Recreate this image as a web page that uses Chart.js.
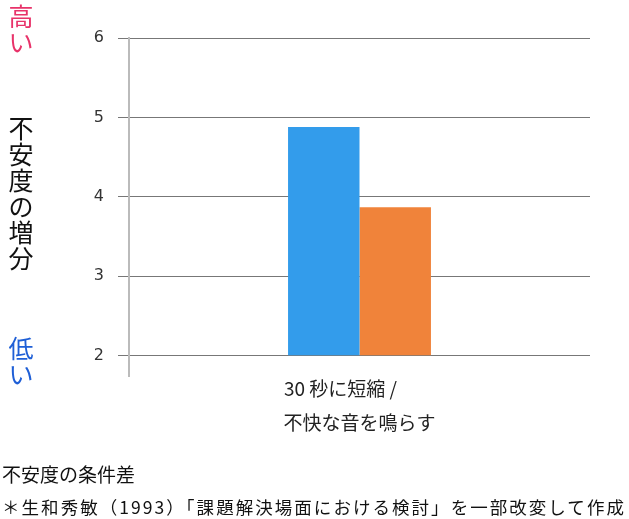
<!DOCTYPE html>
<html><head><meta charset="utf-8">
<script src="https://cdn.jsdelivr.net/npm/chart.js@4"></script>
<style>
html,body{margin:0;padding:0;background:#fff;}
#wrap{position:relative;width:629px;height:519px;font-family:"Noto Sans CJK JP","Noto Sans",sans-serif;}
canvas{position:absolute;left:0;top:0;}
.v{position:absolute;font-size:25px;line-height:26px;width:26px;text-align:center;}
.f{position:absolute;left:2px;color:#111;white-space:nowrap;line-height:1;}
</style></head>
<body><div id="wrap">
<canvas id="c" width="629" height="519"></canvas>
<div class="v" style="left:8px;top:2px;color:#e8336a;">高<br>い</div>
<div class="v" style="left:8px;top:114px;color:#111;">不<br>安<br>度<br>の<br>増<br>分</div>
<div class="v" style="left:8px;top:334px;color:#1f5fd6;">低<br>い</div>
<div class="f" id="f1" style="top:464px;font-size:19px;">不安度の条件差</div>
<div class="f" id="f2" style="top:498px;font-size:17.5px;">＊生和秀敏（1993）「課題解決場面における検討」を一部改変して作成</div>
</div>
<script>
const categories = [["30 秒に短縮 /\u3000\u3000", "不快な音を鳴らす"]];
const seriesA = [4.88];
const seriesB = [3.87];
const yTicks = [2, 3, 4, 5, 6];

(function fit(){
  const el = document.getElementById('f2');
  const n = el.textContent.length;
  const w = el.getBoundingClientRect().width;
  el.style.letterSpacing = ((624 - w) / n) + 'px';
})();

new Chart(document.getElementById('c'), {
  type: 'bar',
  data: {
    labels: categories,
    datasets: [
      {data: seriesA, backgroundColor: '#339ceb', base: 2, borderWidth: 0},
      {data: seriesB, backgroundColor: '#f0833a', base: 2, borderWidth: 0}
    ]
  },
  options: {
    responsive: false,
    animation: false,
    devicePixelRatio: 1,
    layout: {padding: {top: 38, right: 39, bottom: 0, left: 0}},
    plugins: {legend: {display: false}, tooltip: {enabled: false}},
    datasets: {bar: {barPercentage: 1, categoryPercentage: 0.31}},
    scales: {
      x: {
        grid: {display: false},
        border: {display: false},
        ticks: {color: '#222', font: {family: '"Noto Sans CJK JP"', size: 19, lineHeight: '34px'}, padding: -12, maxRotation: 0},
        afterFit: s => { s.height = 143; }
      },
      y: {
        min: 1.744, max: 6,
        afterBuildTicks: s => { s.ticks = yTicks.map(v => ({value: v})); },
        afterFit: s => { s.width = 129; },
        grid: {color: '#777', lineWidth: 1, drawTicks: true, tickLength: 11, tickColor: '#777'},
        border: {display: true, color: '#bbb', width: 2},
        ticks: {color: '#333', font: {family: '"DejaVu Sans"', size: 16}, padding: 14}
      }
    }
  }
});
</script>
</body></html>
